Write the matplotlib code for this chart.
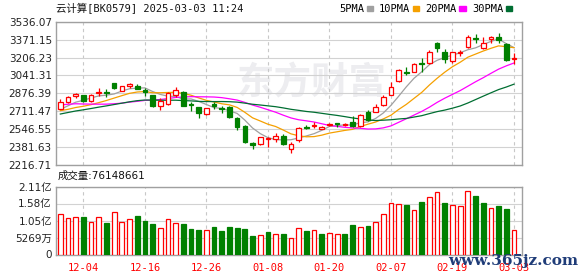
"""
Cloud computing sector index (BK0579) daily K-line with moving averages
and volume, redrawn in the style of an Eastmoney quote snapshot.
"""
import numpy as np
import pandas as pd
import matplotlib
matplotlib.use('Agg')
import matplotlib.pyplot as plt
import matplotlib.patches as mpatches

# === Colours ===
RED      = '#ff0000'
GREEN    = '#008000'
GRID     = '#d2d2d2'
FRAME    = '#a0a0a0'
MA_COLORS = ['#a0a0a0', '#f5a000', '#ff00ff', '#006e32']
MA_WINDOWS = [5, 10, 20, 30]
MA_LABELS = ['5PMA', '10PMA', '20PMA', '30PMA']

# === Data ===
dates = ['11-29', '12-02', '12-03', '12-04', '12-05', '12-06', '12-09', '12-10',
         '12-11', '12-12', '12-13', '12-16', '12-17', '12-18', '12-19', '12-20',
         '12-23', '12-24', '12-25', '12-26', '12-27', '12-30', '12-31', '01-02',
         '01-03', '01-06', '01-07', '01-08', '01-09', '01-10', '01-13', '01-14',
         '01-15', '01-16', '01-17', '01-20', '01-21', '01-22', '01-23', '01-24',
         '01-27', '02-05', '02-06', '02-07', '02-10', '02-11', '02-12', '02-13',
         '02-14', '02-17', '02-18', '02-19', '02-20', '02-21', '02-24', '02-25',
         '02-26', '02-27', '02-28', '03-03']
tick_dates = ['12-04', '12-16', '12-26', '01-08', '01-20', '02-07', '02-19', '03-03']

# closes of the 29 sessions before the window (only feed the moving averages)
prior_close = [2420, 2450, 2480, 2500, 2510, 2530, 2550, 2570, 2580, 2610,
               2700, 2780, 2850, 2880, 2900, 2870, 2850, 2830, 2780, 2770,
               2720, 2700, 2690, 2710, 2705, 2680, 2700, 2720, 2748]

open_ = [2736.9, 2794.0, 2849.3, 2861.2, 2801.4, 2876.9, 2888.9, 2969.0, 2900.8, 2946.9,
         2946.9, 2907.3, 2861.2, 2762.7, 2775.6, 2861.2, 2891.6, 2775.6, 2748.0, 2683.6,
         2775.6, 2744.3, 2748.0, 2646.7, 2575.8, 2422.1, 2407.4, 2456.1, 2453.4, 2483.7,
         2359.5, 2442.3, 2566.6, 2575.8, 2551.0, 2585.0, 2600.7, 2582.3, 2612.6, 2573.0,
         2704.7, 2707.5, 2769.2, 2861.2, 2990.2, 3070.2, 3075.7, 3153.1, 3153.1, 3335.4,
         3259.9, 3177.0, 3245.2, 3305.9, 3383.3, 3291.2, 3374.1, 3392.5, 3330.8, 3192.7]
high = [2819.8, 2852.0, 2882.4, 2865.8, 2870.4, 2922.9, 2916.5, 2974.5, 2946.9, 2974.5,
        2957.9, 2925.7, 2865.8, 2830.8, 2891.6, 2937.6, 2900.8, 2794.0, 2753.5, 2744.3,
        2794.0, 2760.0, 2760.0, 2661.4, 2585.0, 2431.3, 2477.3, 2477.3, 2508.6, 2502.2,
        2431.3, 2563.8, 2585.0, 2615.4, 2578.6, 2606.2, 2600.7, 2598.8, 2667.9, 2681.7,
        2718.5, 2778.4, 2861.2, 2983.7, 3097.9, 3121.8, 3153.1, 3199.1, 3275.6, 3346.5,
        3282.0, 3259.9, 3275.6, 3413.7, 3420.1, 3398.0, 3404.5, 3429.3, 3342.8, 3245.2]
low = [2727.7, 2784.8, 2833.6, 2794.0, 2792.7, 2852.0, 2845.6, 2913.8, 2895.3, 2925.7,
       2913.7, 2852.0, 2750.8, 2723.2, 2769.2, 2845.6, 2760.0, 2716.7, 2652.2, 2677.1,
       2729.6, 2692.8, 2646.7, 2539.0, 2422.1, 2361.3, 2400.9, 2385.3, 2431.3, 2400.9,
       2330.0, 2431.3, 2545.4, 2554.6, 2545.4, 2575.8, 2569.4, 2573.0, 2569.4, 2563.8,
       2621.9, 2704.7, 2760.0, 2856.6, 2983.7, 3045.4, 3070.2, 3075.7, 3146.6, 3259.9,
       3158.6, 3153.1, 3220.3, 3291.2, 3337.2, 3284.8, 3337.2, 3337.2, 3177.0, 3146.6]
close = [2796.8, 2842.8, 2867.7, 2806.0, 2858.5, 2888.9, 2876.9, 2923.0, 2941.3, 2962.5,
         2919.3, 2888.9, 2755.4, 2806.0, 2882.4, 2907.3, 2762.7, 2766.4, 2692.8, 2738.8,
         2762.7, 2729.6, 2655.9, 2569.4, 2431.3, 2400.9, 2471.8, 2468.1, 2483.7, 2410.1,
         2412.9, 2554.6, 2560.2, 2587.8, 2563.8, 2591.4, 2594.2, 2594.2, 2578.6, 2672.5,
         2626.5, 2753.5, 2845.6, 2932.1, 3091.4, 3061.0, 3146.6, 3143.9, 3259.9, 3291.2,
         3189.9, 3254.4, 3257.1, 3398.0, 3376.8, 3342.8, 3398.0, 3367.6, 3183.5, 3199.1]

# volume in millions of shares
volume_m = [124.6, 112.2, 117.1, 116.2, 99.8, 115.3, 96.7, 130.8, 99.8, 109.1,
            119.3, 104.7, 94.5, 81.2, 109.1, 96.7, 94.5, 80.0, 75.9, 75.9,
            85.2, 72.8, 85.2, 82.1, 80.0, 57.3, 60.4, 69.7, 62.6, 63.5,
            52.1, 83.1, 73.8, 75.9, 63.5, 66.6, 63.5, 63.5, 91.4, 85.2,
            89.3, 100.7, 125.5, 158.7, 155.6, 153.4, 137.9, 163.6, 177.3, 194.6,
            159.6, 153.4, 149.4, 196.8, 181.3, 159.6, 143.2, 150.3, 141.0, 76.148661]
# R = up day, G = down day (volume bar colour)
vol_dir = 'RRRGRRGRRRGGGRRRGGGRGGGGGGRGRGRRGRGRRGGRGRRRRGRGRRGRRRGGRGGR'

price_ticks = [2216.71, 2381.63, 2546.55, 2711.47, 2876.39, 3041.31, 3206.23, 3371.15, 3536.07]
vol_max = 210760000

# === Prepare ===
x = np.arange(len(dates))
o = np.array(open_)
c = np.array(close)
volume = np.array(volume_m) * 1e6
up = c >= o
cand_edge = [RED if u else GREEN for u in up]
cand_face = ['white' if u else GREEN for u in up]
vol_edge = [RED if d == 'R' else GREEN for d in vol_dir]
vol_face = ['white' if d == 'R' else GREEN for d in vol_dir]

all_close = pd.Series(prior_close + close)
ma = [all_close.rolling(n).mean().iloc[len(prior_close):].values for n in MA_WINDOWS]

MONO = ['DejaVu Sans Mono', 'Noto Sans CJK SC']
SANS = ['DejaVu Sans', 'Noto Sans CJK SC']

W, H = 578, 276
fig = plt.figure(figsize=(W / 100, H / 100), dpi=100, facecolor='white')

def px_axes(l, t, r, b):
    return fig.add_axes([l / W, 1 - b / H, (r - l) / W, (b - t) / H])

ax = px_axes(56, 21.7, 522, 165)
axv = px_axes(56, 186.5, 522, 254.5)

xlim = (-0.56, 60.04)
tick_pos = [dates.index(d) for d in tick_dates]

for a in (ax, axv):
    a.set_xlim(*xlim)
    a.set_xticks(tick_pos)
    a.grid(axis='x', color='#c8c8c8', linestyle=(0, (3, 3)), linewidth=0.8, zorder=0)
    a.grid(axis='y', color=GRID, linestyle='-', linewidth=0.8, zorder=0)
    for s in a.spines.values():
        s.set_color(FRAME)
        s.set_linewidth(1.0)
    a.tick_params(length=0, pad=3, labelsize=7.5, colors='#222222')

# ── price panel ──
ax.text(0.55, 0.56, '东方财富', transform=ax.transAxes, ha='center', va='center',
        fontsize=27, fontweight='bold', color='#ededf0', family=SANS, zorder=0)

for vals, col in zip(ma, MA_COLORS):
    ax.plot(x, vals, color=col, linewidth=0.9, zorder=2)

ax.vlines(x, low, high, colors=cand_edge, linewidth=0.9, zorder=3)
body = np.abs(c - o)
body = np.where(body < 2, 2, body)
ax.bar(x, body, bottom=np.minimum(o, c), width=0.6, color=cand_face,
       edgecolor=cand_edge, linewidth=0.9, zorder=4)

ax.set_ylim(price_ticks[0], price_ticks[-1])
ax.set_yticks(price_ticks)
ax.set_yticklabels([f'{p:.2f}' for p in price_ticks], family=SANS)
ax.set_xticklabels([])

# ── volume panel ──
axv.bar(x, volume, width=0.62, color=vol_face, edgecolor=vol_edge, linewidth=0.9, zorder=3)
vol_ticks = [vol_max * k / 4 for k in range(5)]

def vol_fmt(v):
    if v >= 1e8:
        return f'{v / 1e8:.2f}亿'
    if v > 0:
        return f'{v / 1e4:.0f}万'
    return '0'

axv.set_ylim(0, vol_max)
axv.set_yticks(vol_ticks)
axv.set_yticklabels([vol_fmt(v) for v in vol_ticks], family=SANS)
axv.set_xticklabels(tick_dates, color=RED, family=MONO, fontsize=7.5)
axv.tick_params(axis='x', pad=6)

fig.text(58 / W, 1 - 176 / H, f'成交量:{int(volume[-1])}', ha='left', va='center',
         fontsize=7.5, family=SANS, color='#111111')

# ── header ──
fig.text(56 / W, 1 - 9 / H, '云计算[BK0579] 2025-03-03 11:24', ha='left', va='center',
         fontsize=7.5, family=MONO, color='#111111')
handles = [mpatches.Patch(color=col, label=lab) for col, lab in zip(MA_COLORS, MA_LABELS)]
fig.legend(handles=handles, ncol=4, loc='center right', bbox_to_anchor=(512 / W, 1 - 9 / H),
           frameon=False, markerfirst=False, handlelength=0.6, handleheight=0.35,
           handletextpad=0.25, columnspacing=0.6, borderpad=0, borderaxespad=0,
           prop={'family': MONO, 'size': 7.5})

# site watermark at the bottom right (it sits over the last date labels in the source)
fig.text(513 / W, 1 - 261 / H, 'www.365jz.com', ha='center', va='center',
         fontsize=11, fontweight='bold', family='DejaVu Serif', color='#1f3c78')

fig.savefig('out.png', dpi=100, facecolor='white')
plt.close(fig)
